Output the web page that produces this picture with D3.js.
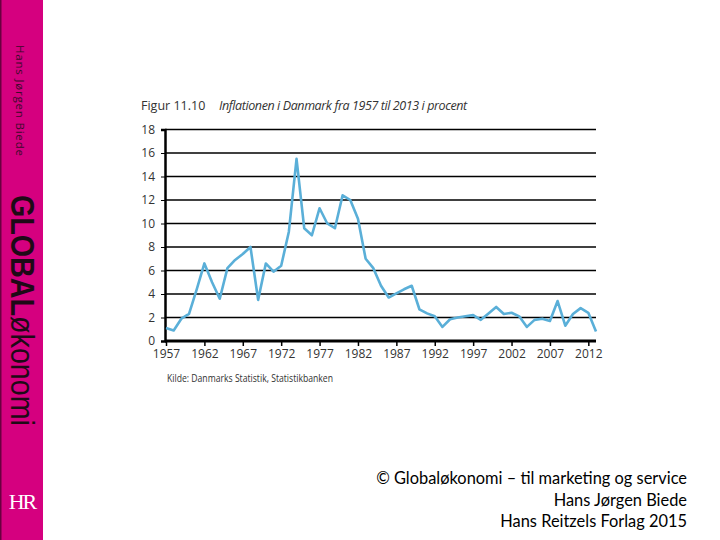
<!DOCTYPE html>
<html>
<head>
<meta charset="utf-8">
<script src="https://cdn.jsdelivr.net/npm/d3@7"></script>
<style>
  body { margin: 0; background: #fff; }
  svg { display: block; }
</style>
</head>
<body>
<svg></svg>
<script>
const svgWidth = 720;
const svgHeight = 540;

// Inflation data
const years = d3.range(1957, 2014);
const inflation = [
  1.1, 0.9, 1.9, 2.3, 4.4, 6.6, 5.0, 3.6, 6.2, 6.9,
  7.4, 8.0, 3.5, 6.6, 5.9, 6.4, 9.3, 15.5, 9.6, 9.0,
  11.3, 10.0, 9.6, 12.4, 12.0, 10.4, 7.0, 6.2, 4.7, 3.7,
  4.05, 4.4, 4.7, 2.7, 2.35, 2.1, 1.2, 1.85, 2.0, 2.1,
  2.2, 1.8, 2.35, 2.9, 2.3, 2.4, 2.1, 1.2, 1.8, 1.9,
  1.7, 3.4, 1.3, 2.3, 2.8, 2.4, 0.8
];
const xTicks = [1957, 1962, 1967, 1972, 1977, 1982, 1987, 1992, 1997, 2002, 2007, 2012];
const yTicks = [0, 2, 4, 6, 8, 10, 12, 14, 16, 18];

const data = years.map((y, i) => ({ year: y, value: inflation[i] }));

const svg = d3.select("svg")
    .attr("width", svgWidth)
    .attr("height", svgHeight);

// Left magenta band
svg.append("rect")
    .attr("x", 0).attr("y", 0)
    .attr("width", 43).attr("height", svgHeight)
    .attr("fill", "#d5007f");
svg.append("rect")
    .attr("x", 0).attr("y", 0)
    .attr("width", 1.5).attr("height", svgHeight)
    .attr("fill", "#6a0040");

svg.append("text")
    .attr("transform", "translate(16,45) rotate(90)")
    .attr("font-family", "Open Sans, sans-serif")
    .attr("font-size", 11.5)
    .attr("letter-spacing", 0.8)
    .attr("fill", "#3a0a2a")
    .text("Hans Jørgen Biede");

const brand = svg.append("text")
    .attr("transform", "translate(11,195) rotate(90)")
    .attr("font-family", "Liberation Sans, Arial, sans-serif")
    .attr("font-size", 34)
    .attr("textLength", 231)
    .attr("lengthAdjust", "spacingAndGlyphs")
    .attr("fill", "#1e0a16");
brand.append("tspan").attr("font-weight", "bold").text("GLOBAL");
brand.append("tspan").text("økonomi");

svg.append("text")
    .attr("x", 22).attr("y", 509)
    .attr("text-anchor", "middle")
    .attr("font-family", "Liberation Serif, serif")
    .attr("font-size", 22)
    .attr("letter-spacing", -2)
    .attr("fill", "#fff")
    .text("HR");

// Chart area
const x = d3.scaleLinear().domain([1957, 2013]).range([166, 596]);
const y = d3.scaleLinear().domain([0, 18]).range([341, 129.5]);

// Title
const title = svg.append("text")
    .attr("x", 141).attr("y", 110)
    .attr("font-family", "Open Sans, sans-serif")
    .attr("font-size", 12.5)
    .attr("fill", "#333");
title.append("tspan").text("Figur 11.10");
title.append("tspan").attr("x", 219).attr("font-style", "italic")
    .attr("letter-spacing", -0.4)
    .text("Inflationen i Danmark fra 1957 til 2013 i procent");

// Gridlines
svg.append("g")
    .selectAll("line")
    .data(yTicks.filter(d => d > 0))
    .join("line")
    .attr("x1", 165).attr("x2", 596)
    .attr("y1", d => y(d)).attr("y2", d => y(d))
    .attr("stroke", "#000")
    .attr("stroke-width", 1.4);

// Y axis
const yAxis = svg.append("g")
    .attr("transform", "translate(165,0)")
    .call(d3.axisLeft(y).tickValues(yTicks).tickSize(4).tickPadding(6));
yAxis.select(".domain").attr("stroke-width", 2.5);
yAxis.selectAll("text")
    .attr("font-family", "Open Sans, sans-serif")
    .attr("font-size", 12)
    .attr("fill", "#333");

// X axis
const xAxis = svg.append("g")
    .attr("transform", "translate(0,341)")
    .call(d3.axisBottom(x).tickValues(xTicks).tickFormat(d3.format("d"))
        .tickSize(5).tickSizeOuter(0).tickPadding(3));
xAxis.select(".domain").attr("stroke-width", 3)
    .attr("d", "M165,0H596");
xAxis.selectAll(".tick line").attr("stroke-width", 1.5);
xAxis.selectAll("text")
    .attr("font-family", "Open Sans, sans-serif")
    .attr("font-size", 12)
    .attr("fill", "#333");

// Inflation line
svg.append("path")
    .datum(data)
    .attr("fill", "none")
    .attr("stroke", "#5aafd8")
    .attr("stroke-width", 2.6)
    .attr("stroke-linejoin", "round")
    .attr("d", d3.line().x(d => x(d.year)).y(d => y(d.value)));

// Source
svg.append("text")
    .attr("x", 167).attr("y", 382)
    .attr("font-family", "Open Sans, sans-serif")
    .attr("font-size", 10.5)
    .attr("textLength", 166)
    .attr("lengthAdjust", "spacingAndGlyphs")
    .attr("fill", "#333")
    .text("Kilde: Danmarks Statistik, Statistikbanken");

// Footer
const footer = ["© Globaløkonomi – til marketing og service", "Hans Jørgen Biede", "Hans Reitzels Forlag 2015"];
svg.append("g")
    .selectAll("text")
    .data(footer)
    .join("text")
    .attr("x", 687)
    .attr("y", (d, i) => 484 + i * 21.5)
    .attr("text-anchor", "end")
    .attr("font-family", "Lato, sans-serif")
    .attr("font-size", 16.4)
    .attr("fill", "#000")
    .text(d => d);
</script>
</body>
</html>
